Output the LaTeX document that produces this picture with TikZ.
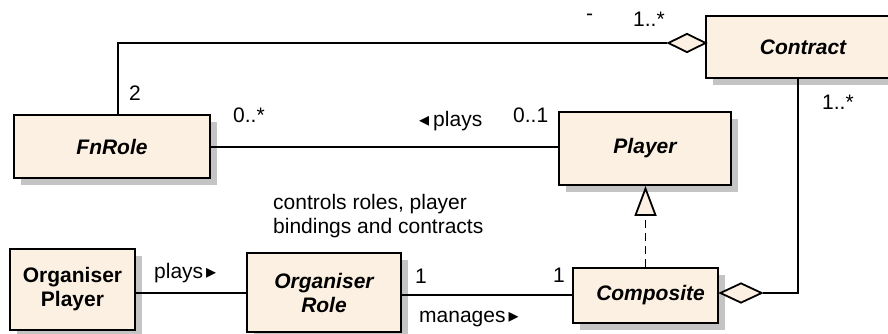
\documentclass[tikz,border=0pt]{standalone}
\usepackage{fontspec}
\setmainfont{Liberation Sans}
\newfontfamily\symfont{DejaVu Sans}
\usetikzlibrary{shapes.geometric,arrows.meta,shadows}

\definecolor{cream}{RGB}{251,240,226}
\definecolor{shade}{RGB}{196,196,196}

\newcommand{\rtri}{{\symfont\fontsize{20}{20}\selectfont ▸}}
\newcommand{\ltri}{{\symfont\fontsize{20}{20}\selectfont ◂}}

\tikzset{
  cls/.style={draw, line width=1.8pt, fill=cream, inner sep=0pt, align=center,
    font=\fontsize{21}{24}\selectfont\bfseries\itshape,
    drop shadow={shadow xshift=7pt, shadow yshift=-7pt, fill=shade, opacity=1}},
  plaincls/.style={cls, font=\fontsize{21}{24}\selectfont\bfseries},
  lbl/.style={inner sep=0pt, font=\fontsize{21}{24}\selectfont},
  conn/.style={line width=1.8pt},
  agg/.style={draw, line width=1.8pt, fill=cream, shape=diamond, inner sep=0pt}
}

\begin{document}
\begin{tikzpicture}[x=1pt,y=-1pt]
\clip (0,0) rectangle (888,334);

% classes
\node[cls, minimum width=196pt, minimum height=63pt] (fnrole) at (112,146.5) {FnRole};
\node[cls, minimum width=194pt, minimum height=62pt] (contract) at (803,47) {Contract};
\node[cls, minimum width=172pt, minimum height=73pt] (player) at (645,148.5) {Player};
\node[cls, minimum width=145pt, minimum height=55pt] (composite) at (645.5,295.5) {\hspace{10pt}Composite};
\node[plaincls, minimum width=125pt, minimum height=81pt] (orgplayer) at (72.5,289.5) {Organiser\\Player};
\node[cls, minimum width=154pt, minimum height=79pt] (orgrole) at (324,292.5) {Organiser\\Role};

% aggregation diamonds
\node[agg, minimum width=38pt, minimum height=19pt] (dcontract) at (687,43) {};
\node[agg, minimum width=42pt, minimum height=20pt] (dcomposite) at (741,293) {};

% associations
\draw[conn] (dcontract.west) -| ([xshift=6pt]fnrole.north);
\draw[conn] (dcomposite.east) -| ([xshift=-5pt]contract.south);
\draw[conn] (fnrole.east |- 0,147) -- (player.west |- 0,147);
\draw[conn] (orgplayer.east |- 0,293) -- (orgrole.west |- 0,293);
\draw[conn] (orgrole.east |- 0,295) -- (composite.west |- 0,295);

% realization
\draw[conn, dash pattern=on 8pt off 5pt,
  -{Triangle[open, fill=cream, width=22pt, length=30pt, line width=1.8pt]}]
  (composite.north) -- (composite.north |- player.south);

% multiplicities and role names
\node[lbl, anchor=base west] (m0) at (586,21) {-};
\node[lbl, anchor=base west] (m1) at (633,27) {1..*};
\node[lbl, anchor=base west] (m2) at (129,101) {2};
\node[lbl, anchor=base west] (m3) at (233,122) {0..*};
\node[lbl, anchor=base west] (m4) at (419,126) {\ltri\hspace{4pt}plays};
\node[lbl, anchor=base west] (m5) at (513,123) {0..1};
\node[lbl, anchor=base west] (m6) at (822,110) {1..*};
\node[lbl, anchor=base west, align=left] (note) at (273,233)
  {controls roles, player\\bindings and contracts};
\node[lbl, anchor=base west] (m7) at (154,278) {plays\hspace{3pt}\rtri};
\node[lbl, anchor=base west] (m8) at (415,283) {1};
\node[lbl, anchor=base west] (m9) at (553,282) {1};
\node[lbl, anchor=base west] (m10) at (419,322) {manages\hspace{3pt}\rtri};
\end{tikzpicture}
\end{document}
